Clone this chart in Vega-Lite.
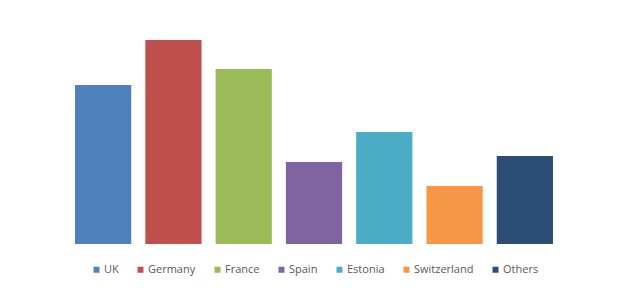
{
  "$schema": "https://vega.github.io/schema/vega-lite/v6.json",
  "width": 492,
  "height": 234,
  "padding": {"left": 68, "top": 10, "right": 68, "bottom": 44},
  "autosize": {"type": "none"},
  "background": "white",
  "config": {"view": {"stroke": null}},
  "data": {
    "values": [
      {"country": "UK", "value": 159},
      {"country": "Germany", "value": 204},
      {"country": "France", "value": 175},
      {"country": "Spain", "value": 82},
      {"country": "Estonia", "value": 112},
      {"country": "Switzerland", "value": 58},
      {"country": "Others", "value": 88}
    ]
  },
  "mark": {"type": "bar"},
  "encoding": {
    "x": {
      "field": "country",
      "type": "nominal",
      "sort": null,
      "axis": null,
      "scale": {"paddingInner": 0.2, "paddingOuter": 0.1}
    },
    "y": {
      "field": "value",
      "type": "quantitative",
      "axis": null,
      "scale": {"domain": [0, 234], "nice": false}
    },
    "color": {
      "field": "country",
      "type": "nominal",
      "sort": null,
      "scale": {
        "domain": ["UK", "Germany", "France", "Spain", "Estonia", "Switzerland", "Others"],
        "range": ["#4F81BD", "#C0504D", "#9BBB59", "#8064A2", "#4BACC6", "#F79646", "#2C4D75"]
      },
      "legend": {
        "title": null,
        "orient": "none",
        "direction": "horizontal",
        "legendX": 23,
        "legendY": 254,
        "symbolType": "square",
        "symbolSize": 36,
        "symbolStrokeWidth": 0,
        "labelFont": "Open Sans",
        "labelFontSize": 11,
        "labelColor": "#595959",
        "labelOffset": 2,
        "columnPadding": 16,
        "padding": 0
      }
    }
  }
}
